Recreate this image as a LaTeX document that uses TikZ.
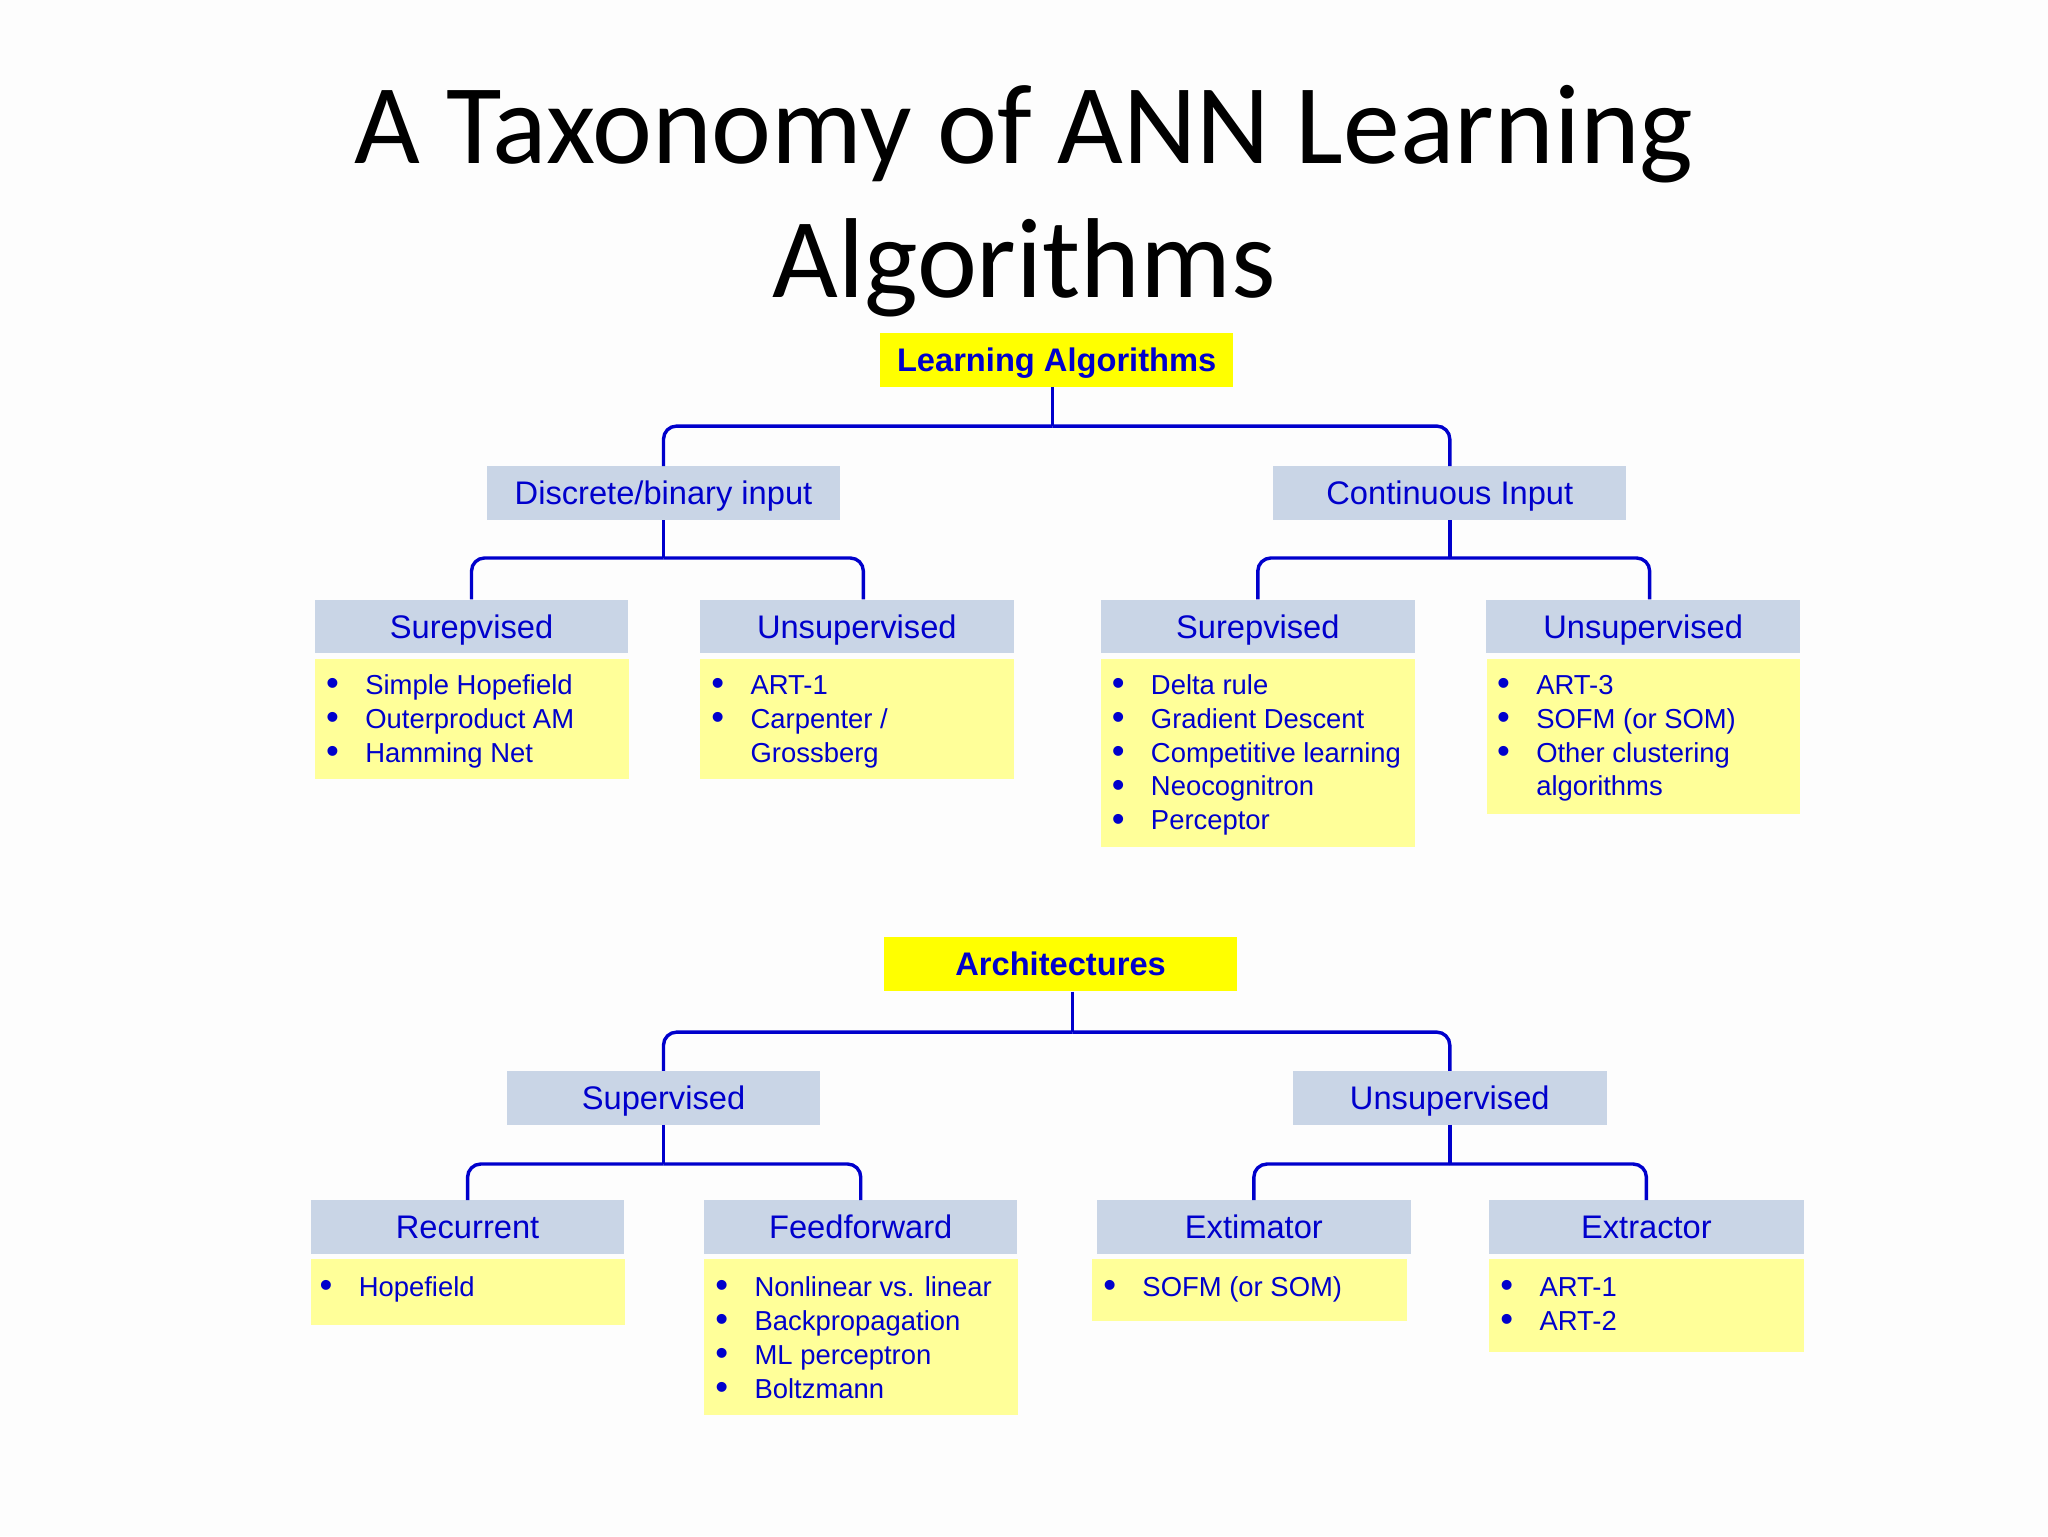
\documentclass[tikz,border=0pt]{standalone}
\usepackage{fontspec}
\setmainfont{Liberation Sans}
\newfontfamily\titlefont{Carlito}
\usepackage{array}
\definecolor{tblue}{RGB}{0,0,204}
\definecolor{hdrfill}{RGB}{201,213,230}
\definecolor{lstfill}{RGB}{255,255,153}
\definecolor{topyel}{RGB}{255,255,0}
\definecolor{bgcol}{RGB}{253,253,253}
\tikzset{
  rootbox/.style={fill=topyel, minimum width=270pt, minimum height=41pt, inner sep=0pt,
    text=tblue, font=\fontsize{25}{26}\selectfont\bfseries, text height=18pt, text depth=0pt},
  catbox/.style={fill=hdrfill, minimum width=270pt, minimum height=41pt, inner sep=0pt,
    text=tblue, font=\fontsize{25}{26}\selectfont, text height=18pt, text depth=0pt},
  hdrbox/.style={catbox, minimum width=240pt},
  lstbox/.style={fill=lstfill, anchor=north west, minimum width=240pt, inner sep=0pt},
  lsttext/.style={anchor=north west, inner sep=0pt, text=tblue, font=\fontsize{21}{26}\selectfont},
  conn/.style={draw=tblue, line width=2.6pt, rounded corners=10pt},
  stem/.style={draw=tblue, line width=2.6pt},
}
\newcommand{\bul}{\raisebox{-1.2pt}{\fontsize{28}{26}\selectfont\textbullet}}
\newcommand{\blist}[1]{\begin{tabular}{@{}p{30pt}@{}l@{}}#1\end{tabular}}
\begin{document}
\begin{tikzpicture}[x=1pt,y=-1pt]
\fill[bgcol] (0,0) rectangle (1568,1176);
\useasboundingbox (0,0) rectangle (1568,1176);

% title
\node[anchor=base, inner sep=0pt, font=\titlefont\fontsize{87}{100}\selectfont] (t1) at (784,125) {A Taxonomy of ANN Learning};
\node[anchor=base, inner sep=0pt, font=\titlefont\fontsize{87}{100}\selectfont] (t2) at (784,228) {Algorithms};

% ---------- Learning algorithms ----------
\node[rootbox] (la) at (809,275.5) {Learning Algorithms};
\node[catbox] (di) at (508,377.5) {Discrete/binary input};
\node[catbox] (ci) at (1110,377.5) {Continuous Input};
\node[hdrbox] (s1) at (361,479.5) {Surepvised};
\node[hdrbox] (u1) at (656,479.5) {Unsupervised};
\node[hdrbox] (s2) at (963,479.5) {Surepvised};
\node[hdrbox] (u2) at (1258,479.5) {Unsupervised};

\node[lstbox, minimum height=92pt] (l1) at (241,504) {};
\node[lstbox, minimum height=92pt] (l2) at (536,504) {};
\node[lstbox, minimum height=144pt] (l3) at (843,504) {};
\node[lstbox, minimum height=119pt] (l4) at (1138,504) {};

\node[lsttext] (l1t) at (249.5,513) {\blist{\bul & Simple Hopefield\\ \bul & Outerproduct AM\\ \bul & Hamming Net}};
\node[lsttext] (l2t) at (544.5,513) {\blist{\bul & ART-1\\ \bul & Carpenter /\\ & Grossberg}};
\node[lsttext] (l3t) at (851,513) {\blist{\bul & Delta rule\\ \bul & Gradient Descent\\ \bul & Competitive learning\\ \bul & Neocognitron\\ \bul & Perceptor}};
\node[lsttext] (l4t) at (1146,513) {\blist{\bul & ART-3\\ \bul & SOFM (or SOM)\\ \bul & Other clustering\\ & algorithms}};

\draw[stem] ([xshift=-3pt]la.south) -- ++(0,30) coordinate (j1);
\draw[conn] (j1) -| (di.north);
\draw[conn] (j1) -| (ci.north);
\draw[stem] (di.south) -- ++(0,29) coordinate (j2);
\draw[conn] (j2) -| (s1.north);
\draw[conn] (j2) -| ([xshift=5pt]u1.north);
\draw[stem] (ci.south) -- ++(0,29) coordinate (j3);
\draw[conn] (j3) -| (s2.north);
\draw[conn] (j3) -| ([xshift=5pt]u2.north);

% ---------- Architectures ----------
\node[rootbox, minimum height=42pt] (ar) at (812,738) {Architectures};
\node[hdrbox] (sv) at (508,840.5) {Supervised};
\node[hdrbox] (us) at (1110,840.5) {Unsupervised};
\node[hdrbox] (rc) at (358,939.5) {Recurrent};
\node[hdrbox] (ff) at (659,939.5) {Feedforward};
\node[hdrbox] (ex) at (960,939.5) {Extimator};
\node[hdrbox, minimum width=241pt] (et) at (1260.5,939.5) {Extractor};

\node[lstbox, minimum height=50pt] (lr) at (238,964) {};
\node[lstbox, minimum height=119pt] (lf) at (539,964) {};
\node[lstbox, minimum width=241pt, minimum height=47pt] (le) at (836,964) {};
\node[lstbox, minimum width=241pt, minimum height=71pt] (lt) at (1140,964) {};

\node[lsttext] (lrt) at (244.5,974) {\blist{\bul & Hopefield}};
\node[lsttext] (lft) at (547.5,974) {\blist{\bul & Nonlinear vs. linear\\ \bul & Backpropagation\\ \bul & ML perceptron\\ \bul & Boltzmann}};
\node[lsttext] (let) at (844.5,974) {\blist{\bul & SOFM (or SOM)}};
\node[lsttext] (ltt) at (1148.5,974) {\blist{\bul & ART-1\\ \bul & ART-2}};

\draw[stem] ([xshift=9pt]ar.south) -- ++(0,31) coordinate (k1);
\draw[conn] (k1) -| (sv.north);
\draw[conn] (k1) -| (us.north);
\draw[stem] (sv.south) -- ++(0,30) coordinate (k2);
\draw[conn] (k2) -| (rc.north);
\draw[conn] (k2) -| (ff.north);
\draw[stem] (us.south) -- ++(0,30) coordinate (k3);
\draw[conn] (k3) -| (ex.north);
\draw[conn] (k3) -| (et.north);
\end{tikzpicture}
\end{document}
